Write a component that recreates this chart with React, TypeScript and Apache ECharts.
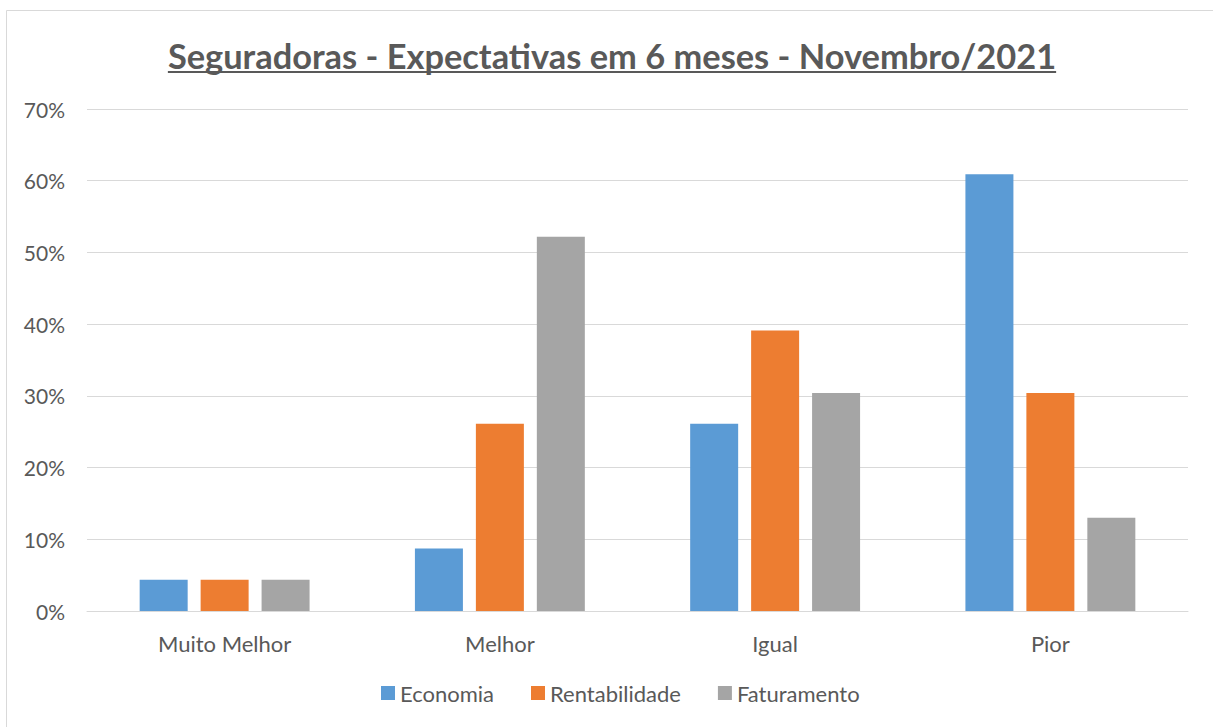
import React, { useEffect, useRef } from "react";
import * as echarts from "echarts";

const categories = ["Muito Melhor", "Melhor", "Igual", "Pior"];
const economia = [4.35, 8.7, 26.1, 60.9];
const rentabilidade = [4.35, 26.1, 39.1, 30.4];
const faturamento = [4.35, 52.2, 30.4, 13.0];
const seriesNames = ["Economia", "Rentabilidade", "Faturamento"];
const colors = ["#5B9BD5", "#ED7D31", "#A5A5A5"];
const titleText = "Seguradoras - Expectativas em 6 meses - Novembro/2021";

const FONT = "Lato, 'Open Sans', sans-serif";

export default function App() {
  const ref = useRef<HTMLDivElement>(null);
  useEffect(() => {
    if (!ref.current) return;
    const chart = echarts.init(ref.current, null, { renderer: "svg" });
    const titleFont = `bold 34.4px Lato`;
    let tw = 888;
    try {
      const c = document.createElement("canvas").getContext("2d");
      if (c) {
        c.font = titleFont;
        tw = c.measureText(titleText).width;
      }
    } catch (e) {}
    const cx = 612;
    const data = [economia, rentabilidade, faturamento];
    chart.setOption({
      animation: false,
      backgroundColor: "#ffffff",
      grid: { left: 87, right: 25, top: 109, bottom: 116, containLabel: false },
      graphic: [
        {
          type: "rect",
          shape: { x: 6.5, y: 10.5, width: 1230, height: 740 },
          style: { fill: "none", stroke: "#D9D9D9", lineWidth: 1 },
          silent: true,
        },
        {
          type: "text",
          x: cx,
          y: 55,
          style: {
            text: titleText,
            font: titleFont,
            fill: "#595959",
            textAlign: "center",
            textVerticalAlign: "middle",
          },
        },
        {
          type: "rect",
          shape: { x: cx - tw / 2, y: 71, width: tw, height: 2 },
          style: { fill: "#595959" },
        },
      ],
      legend: {
        bottom: 18,
        left: 376,
        itemWidth: 14,
        itemHeight: 14,
        itemGap: 37,
        icon: "rect",
        textStyle: { color: "#595959", fontSize: 22, fontFamily: FONT },
        data: seriesNames,
      },
      xAxis: {
        type: "category",
        data: categories,
        axisLine: { lineStyle: { color: "#D9D9D9", width: 1 } },
        axisTick: { show: false },
        axisLabel: { color: "#595959", fontSize: 22, fontFamily: FONT, margin: 21 },
      },
      yAxis: {
        type: "value",
        min: 0,
        max: 70,
        interval: 10,
        axisLine: { show: false },
        axisTick: { show: false },
        splitLine: { lineStyle: { color: "#D9D9D9", width: 1 } },
        axisLabel: {
          color: "#595959",
          fontSize: 21,
          fontFamily: FONT,
          margin: 22,
          formatter: (v: number) => `${v}%`,
        },
      },
      series: seriesNames.map((name, i) => ({
        name,
        type: "bar",
        data: data[i],
        barWidth: 48,
        barGap: "27%",
        itemStyle: { color: colors[i] },
      })),
    });
    return () => chart.dispose();
  }, []);
  return (
    <div
      ref={ref}
      style={{ position: "absolute", left: 0, top: 0, width: 1213, height: 727 }}
    />
  );
}
